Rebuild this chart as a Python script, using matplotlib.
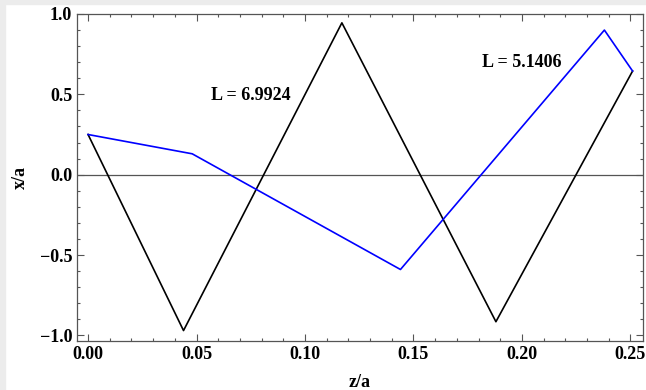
import matplotlib.pyplot as plt
from matplotlib.patches import Rectangle
from matplotlib.ticker import MultipleLocator, FuncFormatter

# black path, L = 6.9924
z_black = [0.0, 0.044, 0.117, 0.188, 0.251]
x_black = [0.25, -0.97, 0.945, -0.915, 0.645]

# blue path, L = 5.1406
z_blue = [0.0, 0.048, 0.144, 0.238, 0.251]
x_blue = [0.25, 0.13, -0.59, 0.90, 0.645]

labels = ["L = 6.9924", "L = 5.1406"]
label_pos = [(0.075, 0.49), (0.200, 0.70)]

plt.rcParams['font.family'] = ['Liberation Serif', 'DejaVu Serif']
plt.rcParams['font.weight'] = 'bold'

fig = plt.figure(figsize=(6.46, 3.90), dpi=100)
fig.patch.set_facecolor('white')
# thin grey border along the top and left edge of the screenshot
fig.patches.append(Rectangle((0, 1 - 4/390), 1, 4/390, transform=fig.transFigure,
                             color='#ececec', zorder=0))
fig.patches.append(Rectangle((0, 0), 5/646, 1, transform=fig.transFigure,
                             color='#ececec', zorder=0))

ax = fig.add_axes([77/646, 49/390, 566/646, 327/390])
ax.axhline(0, color='#555555', lw=0.9, zorder=1)
ax.plot(z_black, x_black, color='black', lw=1.2, zorder=2)
ax.plot(z_blue, x_blue, color='#0000ff', lw=1.2, zorder=3)

for txt, (zx, yx) in zip(labels, label_pos):
    ax.text(zx, yx, txt, fontsize=13, fontweight='bold', ha='center', va='center')

def fmt(nd):
    return FuncFormatter(lambda v, p: ('%.*f' % (nd, v)).replace('-', '\u2212'))

ax.set_xlim(-0.0051, 0.2558)
ax.set_ylim(-1.035, 1.0)
ax.xaxis.set_major_locator(MultipleLocator(0.05))
ax.xaxis.set_minor_locator(MultipleLocator(0.01))
ax.yaxis.set_major_locator(MultipleLocator(0.5))
ax.yaxis.set_minor_locator(MultipleLocator(0.1))
ax.xaxis.set_major_formatter(fmt(2))
ax.yaxis.set_major_formatter(fmt(1))
ax.tick_params(which='both', direction='in', top=True, right=True, color='#555555',
               labelsize=13, width=0.8)
ax.tick_params(which='major', length=5)
ax.tick_params(which='minor', length=2.5)
for lab in ax.get_xticklabels() + ax.get_yticklabels():
    lab.set_fontweight('bold')
for s in ax.spines.values():
    s.set_color('#555555')
    s.set_linewidth(0.9)

ax.set_xlabel('z/a', fontsize=13, fontweight='bold', labelpad=8)
ax.set_ylabel('x/a', fontsize=13, fontweight='bold', labelpad=8)

fig.savefig('out.png', dpi=100)
